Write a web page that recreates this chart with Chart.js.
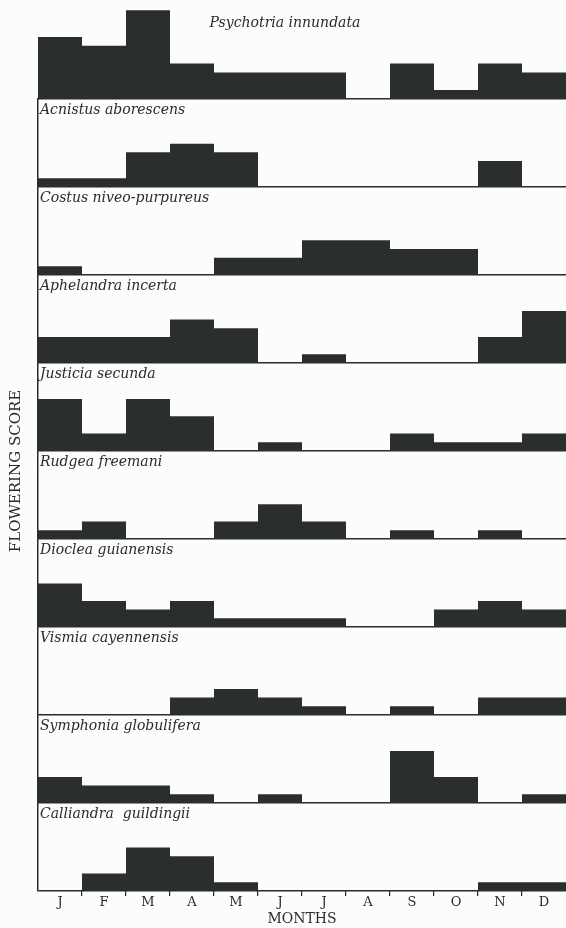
<!DOCTYPE html>
<html>
<head>
<meta charset="utf-8">
<title>Flowering phenology</title>
<script src="https://cdn.jsdelivr.net/npm/chart.js@4.4.1/dist/chart.umd.min.js"></script>
<style>
  html, body { margin: 0; padding: 0; background: #fcfcfa; }
  #wrap { position: relative; width: 566px; height: 928px; }
</style>
</head>
<body>
<div id="wrap"><canvas id="c"></canvas></div>
<script>
// Month tick labels along the shared x axis
const months = ['J', 'F', 'M', 'A', 'M', 'J', 'J', 'A', 'S', 'O', 'N', 'D'];

// Species, top panel first
const species = [
  'Psychotria innundata',
  'Acnistus aborescens',
  'Costus niveo-purpureus',
  'Aphelandra incerta',
  'Justicia secunda',
  'Rudgea freemani',
  'Dioclea guianensis',
  'Vismia cayennensis',
  'Symphonia globulifera',
  'Calliandra  guildingii'
];

// Monthly flowering scores, Jan..Dec
const psychotria = [7, 6, 10, 4, 3, 3, 3, 0, 4, 1, 4, 3];
const acnistus   = [1, 1, 4, 5, 4, 0, 0, 0, 0, 0, 3, 0];
const costus     = [1, 0, 0, 0, 2, 2, 4, 4, 3, 3, 0, 0];
const aphelandra = [3, 3, 3, 5, 4, 0, 1, 0, 0, 0, 3, 6];
const justicia   = [6, 2, 6, 4, 0, 1, 0, 0, 2, 1, 1, 2];
const rudgea     = [1, 2, 0, 0, 2, 4, 2, 0, 1, 0, 1, 0];
const dioclea    = [5, 3, 2, 3, 1, 1, 1, 0, 0, 2, 3, 2];
const vismia     = [0, 0, 0, 2, 3, 2, 1, 0, 1, 0, 2, 2];
const symphonia  = [3, 2, 2, 1, 0, 1, 0, 0, 6, 3, 0, 1];
const calliandra = [0, 2, 5, 4, 1, 0, 0, 0, 0, 0, 1, 1];

const seriesList = [psychotria, acnistus, costus, aphelandra, justicia,
                    rudgea, dioclea, vismia, symphonia, calliandra];

const INK = '#2b2c2a';
const BAR = '#2b2f2c';
const SERIF = '"DejaVu Serif", "Liberation Serif", serif';
const YMAX = 10.15;

// x axis: month boundaries get tick marks, labels sit between them
const scales = {
  x: {
    type: 'category',
    labels: months,
    position: 'bottom',
    offset: true,
    grid: {
      offset: true,
      drawOnChartArea: false,
      tickLength: 5,
      lineWidth: 1.2,
      color: (ctx) => (ctx.type !== 'tick' || ctx.index === 0) ? 'rgba(0,0,0,0)' : INK
    },
    border: { display: false },
    ticks: {
      color: INK,
      padding: 0,
      autoSkip: false,
      maxRotation: 0,
      font: { family: SERIF, size: 13, lineHeight: 1.1 }
    },
    title: {
      display: true,
      text: 'MONTHS',
      color: INK,
      padding: { top: 1, bottom: 0 },
      font: { family: SERIF, size: 14, lineHeight: 1.2 }
    }
  }
};

// one stacked y axis per species panel; only the zero line is drawn
seriesList.forEach((vals, k) => {
  scales['y' + k] = {
    type: 'linear',
    position: 'left',
    stack: 'panels',
    stackWeight: k === 0 ? 90 : 88,
    weight: 10 - k,
    min: 0,
    max: YMAX,
    ticks: { display: false },
    grid: {
      drawTicks: false,
      lineWidth: 1.4,
      color: (ctx) => (ctx.tick && ctx.tick.value === 0) ? INK : 'rgba(0,0,0,0)'
    },
    border: { display: k > 0, color: INK, width: 1.5 }
  };
});

// species names and the shared y-axis caption
const panelText = {
  id: 'panelText',
  afterDraw(chart) {
    const ctx = chart.ctx;
    const area = chart.chartArea;
    ctx.save();
    ctx.fillStyle = INK;
    ctx.textBaseline = 'alphabetic';
    ctx.font = 'italic 14px ' + SERIF;
    species.forEach((name, k) => {
      const sc = chart.scales['y' + k];
      if (k === 0) {
        ctx.textAlign = 'center';
        ctx.fillText(name, 285, sc.top + 18);
      } else {
        ctx.textAlign = 'left';
        ctx.fillText(name, area.left + 2, sc.top + 15.5);
      }
    });
    ctx.translate(16, 471);
    ctx.rotate(-Math.PI / 2);
    ctx.textAlign = 'center';
    ctx.textBaseline = 'middle';
    ctx.font = '15px ' + SERIF;
    ctx.fillText('FLOWERING SCORE', 0, 0);
    ctx.restore();
  }
};

new Chart(document.getElementById('c'), {
  type: 'bar',
  data: {
    labels: months,
    datasets: seriesList.map((vals, k) => ({
      label: species[k],
      data: vals,
      yAxisID: 'y' + k,
      grouped: false,
      barPercentage: 1,
      categoryPercentage: 1,
      inflateAmount: 0,
      backgroundColor: BAR,
      borderWidth: 0
    }))
  },
  options: {
    responsive: true,
    maintainAspectRatio: false,
    animation: false,
    layout: { padding: { left: 38, right: 0, top: 9, bottom: 0 } },
    plugins: {
      legend: { display: false },
      tooltip: { enabled: false }
    },
    scales: scales
  },
  plugins: [panelText]
});
</script>
</body>
</html>
